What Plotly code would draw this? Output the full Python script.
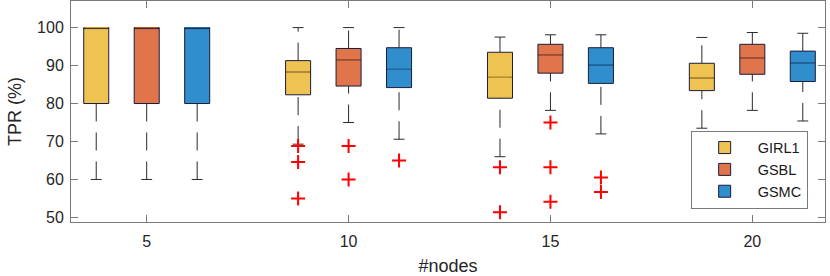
import plotly.graph_objects as go

# ---------------- data ----------------
nodes = [5, 10, 15, 20]
methods = ["GIRL1", "GSBL", "GSMC"]

girl1_low = [60.0, 69.3, 66.0, 73.5]
girl1_q1 = [80.0, 82.3, 81.4, 83.4]
girl1_med = [100.0, 88.3, 86.9, 86.7]
girl1_q3 = [100.0, 91.3, 93.5, 90.6]
girl1_high = [100.0, 100.0, 97.5, 97.4]
girl1_out_nodes = [10, 10, 10, 15, 15]
girl1_out_vals = [68.8, 64.6, 55.0, 63.2, 51.4]

gsbl_low = [60.0, 75.0, 78.2, 78.2]
gsbl_q1 = [80.0, 84.6, 88.0, 87.7]
gsbl_med = [100.0, 91.5, 92.8, 92.0]
gsbl_q3 = [100.0, 94.5, 95.6, 95.6]
gsbl_high = [100.0, 100.0, 98.1, 98.7]
gsbl_out_nodes = [10, 10, 15, 15, 15]
gsbl_out_vals = [68.8, 60.0, 75.0, 63.2, 54.1]

gsmc_low = [60.0, 70.6, 72.0, 75.4]
gsmc_q1 = [80.0, 84.2, 85.3, 85.8]
gsmc_med = [100.0, 89.0, 90.1, 90.7]
gsmc_q3 = [100.0, 94.7, 94.7, 93.8]
gsmc_high = [100.0, 100.0, 98.1, 98.5]
gsmc_out_nodes = [10, 15, 15]
gsmc_out_vals = [65.0, 60.5, 56.7]

# ---------------- style ----------------
fill_colors = ["#EFC352", "#E0744A", "#318ECC"]
median_colors = ["#C99A2E", "#B9552C", "#1F6DA6"]
box_line = "#1c1c3c"
whisker_color = "#2a2a2a"
offsets = [-0.25, 0.0, 0.25]
box_w = 0.124
cap_hw = 0.027
FONT = "Liberation Sans, Arial, sans-serif"

stats = [
    (girl1_low, girl1_q1, girl1_med, girl1_q3, girl1_high, girl1_out_nodes, girl1_out_vals),
    (gsbl_low, gsbl_q1, gsbl_med, gsbl_q3, gsbl_high, gsbl_out_nodes, gsbl_out_vals),
    (gsmc_low, gsmc_q1, gsmc_med, gsmc_q3, gsmc_high, gsmc_out_nodes, gsmc_out_vals),
]

group_pos = {n: i + 1 for i, n in enumerate(nodes)}

fig = go.Figure()

for m, name in enumerate(methods):
    low, q1, med, q3, high, out_n, out_v = stats[m]
    xs = [group_pos[n] + offsets[m] for n in nodes]

    # whiskers (dashed), drawn from lower to upper end of each segment
    wx, wy = [], []
    for x, lo, a, b, hi in zip(xs, low, q1, q3, high):
        wx += [x, x, None, x, x, None]
        wy += [lo, a, None, b, hi, None]
    fig.add_trace(go.Scatter(x=wx, y=wy, mode="lines", showlegend=False, hoverinfo="skip",
                             line=dict(color=whisker_color, width=1, dash="18px,11px")))
    # caps
    cx, cy = [], []
    for x, lo, hi in zip(xs, low, high):
        cx += [x - cap_hw, x + cap_hw, None, x - cap_hw, x + cap_hw, None]
        cy += [lo, lo, None, hi, hi, None]
    fig.add_trace(go.Scatter(x=cx, y=cy, mode="lines", showlegend=False, hoverinfo="skip",
                             line=dict(color=whisker_color, width=1)))

    # boxes
    fig.add_trace(go.Box(
        name=name, x=xs, q1=q1, median=med, q3=q3, lowerfence=q1, upperfence=q3,
        width=box_w, whiskerwidth=0, boxpoints=False,
        fillcolor=fill_colors[m], line=dict(color=box_line, width=1),
        legendrank=m + 1,
    ))

    # medians in a darker shade of the fill
    mx, my = [], []
    for x, v in zip(xs, med):
        mx += [x - box_w / 2 + 0.004, x + box_w / 2 - 0.004, None]
        my += [v, v, None]
    fig.add_trace(go.Scatter(x=mx, y=my, mode="lines", showlegend=False, hoverinfo="skip",
                             line=dict(color=median_colors[m], width=1.2)))

    # outliers
    ox = [group_pos[n] + offsets[m] for n in out_n]
    fig.add_trace(go.Scatter(x=ox, y=out_v, mode="markers", showlegend=False, hoverinfo="skip",
                             marker=dict(symbol="cross-thin", size=10,
                                         line=dict(color="#FF0000", width=2))))

axis_common = dict(
    showline=True, linecolor="#7a7a7a", linewidth=1, mirror="ticks",
    ticks="inside", ticklen=7, tickcolor="#7a7a7a", showgrid=False, zeroline=False,
    automargin=False,
    tickfont=dict(family=FONT, size=16, color="#262626"),
)

fig.update_layout(
    width=830, height=276,
    margin=dict(l=71, r=5, t=1, b=54),
    paper_bgcolor="white", plot_bgcolor="white",
    boxmode="overlay",
    font=dict(family=FONT, size=16, color="#262626"),
    xaxis=dict(range=[0.625, 4.36], tickvals=[1, 2, 3, 4], ticktext=[str(n) for n in nodes],
               ticklabelstandoff=5,
               title=dict(text="#nodes", font=dict(size=18), standoff=16), **axis_common),
    yaxis=dict(range=[48.8, 107.0], tickvals=[50, 60, 70, 80, 90, 100],
               ticklabelstandoff=3,
               title=dict(text="TPR (%)", font=dict(size=18), standoff=10), **axis_common),
    legend=dict(x=0.977, y=0.237, xanchor="right", yanchor="middle",
                bgcolor="white", bordercolor="#7a7a7a", borderwidth=1,
                itemwidth=56,
                font=dict(size=14.5, color="#1a1a1a"), tracegroupgap=0),
)

fig.write_html("out.html", config={"displayModeBar": False},
               post_script="document.body.style.margin='0';")
